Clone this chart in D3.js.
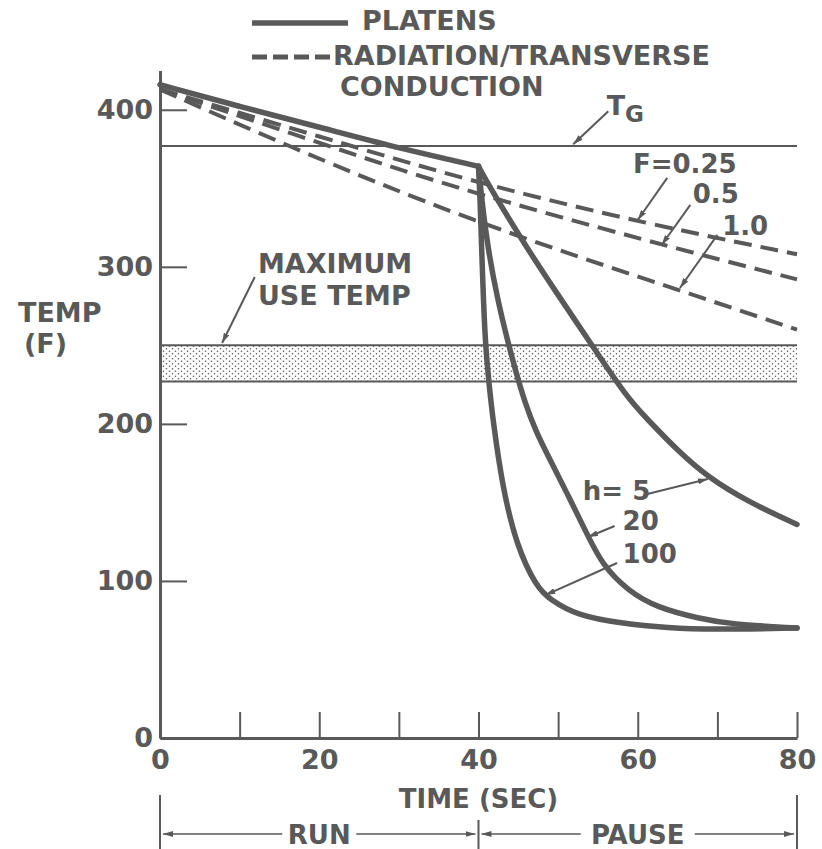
<!DOCTYPE html>
<html>
<head>
<meta charset="utf-8">
<script src="https://cdn.jsdelivr.net/npm/d3@7"></script>
<style>
body { margin: 0; background: #fff; }
text { font-family: "DejaVu Sans", sans-serif; font-weight: bold; fill: #595959; }
</style>
</head>
<body>
<svg id="chart"></svg>
<script>
// TICKS
const X_TICKS = [0, 10, 20, 30, 40, 50, 60, 70, 80];
const X_LABELS = [0, 20, 40, 60, 80];
const Y_TICKS = [0, 100, 200, 300, 400];

// REFERENCE LEVELS (F)
const T_G = 377;
const MAX_USE = [227, 250];

// PLATENS, RUN PHASE [sec, F]
const PLATEN_RUN = [[0, 416], [10, 402], [20, 389], [28, 378], [40, 364]];

// PLATENS, PAUSE PHASE
const PAUSE_H5 = [[40, 364], [41.5, 350], [46.2, 311], [50, 282], [54, 252], [58.6, 217],
    [61.2, 203], [65, 183], [68.8, 166], [74, 150], [80, 136]];
const PAUSE_H20 = [[40, 364], [40.4, 343], [41.2, 311], [42.4, 279], [43.7, 252], [44.7, 233],
    [45.8, 214], [47.2, 195], [49, 177], [51.5, 152], [53.8, 128], [55.6, 110], [58.7, 94], [62.4, 83],
    [67.8, 76], [71.6, 72.5], [80, 70]];
const PAUSE_H100 = [[40, 364], [40.2, 343], [40.4, 311], [40.8, 252], [41.4, 222], [41.8, 203],
    [43, 160], [44.8, 122], [47.3, 96], [49, 88], [52.4, 78], [57.8, 73], [64, 70], [69, 69], [80, 70]];

// RADIATION / TRANSVERSE CONDUCTION
const RAD_F025 = [[0, 413], [20, 383], [40, 353], [61.5, 327], [80, 308]];
const RAD_F05 = [[0, 413], [20, 379], [36.4, 351], [61.5, 316], [80, 292]];
const RAD_F10 = [[0, 413], [15.5, 378], [39, 329], [65.3, 285], [80, 260]];

// CALLOUTS [sec, F]
const LABELS = [
    { t: 59.4, v: 359.8, text: "F=0.25" },
    { t: 66.9, v: 340.7, text: "0.5" },
    { t: 70.6, v: 320.3, text: "1.0" },
    { t: 12.3, v: 296, text: "MAXIMUM" },
    { t: 12.3, v: 275.7, text: "USE TEMP" },
    { t: 53.1, v: 151.5, text: "h= 5" },
    { t: 58.1, v: 132.4, text: "20" },
    { t: 58.1, v: 111.4, text: "100" },
];
const ARROWS = [
    [[56.3, 399], [51.9, 378]],
    [[63.7, 356.6], [60.0, 329.8]],
    [[66.6, 339.4], [63.0, 313.9]],
    [[70.0, 320.3], [65.3, 286.5]],
    [[11.9, 293.5], [7.8, 251.5]],
    [[60.7, 154.7], [68.8, 164.9]],
    [[57.1, 135], [53.75, 128]],
    [[57.4, 111.4], [48.4, 91]],
];

const WIDTH = 822;
const HEIGHT = 849;
const INK = "#595959";

const svg = d3.select('#chart')
    .attr('width', WIDTH)
    .attr('height', HEIGHT);

//CREATE SCALES
const xScale = d3.scaleLinear().domain([0, 80]).range([160, 797]);
const yScale = d3.scaleLinear().domain([0, 425]).range([738, 70.5]);

const defs = svg.append('defs');

defs.append('pattern')
    .attr('id', 'dots')
    .attr('patternUnits', 'userSpaceOnUse')
    .attr('width', 6)
    .attr('height', 5)
    .selectAll('circle')
    .data([[1.5, 1.2], [4.5, 3.7]])
    .enter()
    .append('circle')
    .attr('cx', d => d[0])
    .attr('cy', d => d[1])
    .attr('r', 0.8)
    .attr('fill', INK);

defs.append('marker')
    .attr('id', 'head')
    .attr('viewBox', '0 0 10 6')
    .attr('refX', 10)
    .attr('refY', 3)
    .attr('markerWidth', 10)
    .attr('markerHeight', 6)
    .attr('markerUnits', 'userSpaceOnUse')
    .attr('orient', 'auto')
    .append('path')
    .attr('d', 'M0,0 L10,3 L0,6 Z')
    .attr('fill', INK);

//MAX USE TEMP BAND
svg.append('rect')
    .attr('x', xScale(0))
    .attr('y', yScale(MAX_USE[1]))
    .attr('width', xScale(80) - xScale(0))
    .attr('height', yScale(MAX_USE[0]) - yScale(MAX_USE[1]))
    .attr('fill', 'url(#dots)');

svg.selectAll('.band-edge')
    .data(MAX_USE.concat([T_G]))
    .enter()
    .append('line')
    .attr('x1', xScale(0))
    .attr('x2', xScale(80))
    .attr('y1', d => yScale(d))
    .attr('y2', d => yScale(d))
    .attr('stroke', INK)
    .attr('stroke-width', 2);

//DRAW AXES
const xAxis = svg.append('g')
    .attr('transform', `translate(0, ${yScale(0)})`)
    .call(d3.axisBottom(xScale)
        .tickValues(X_TICKS)
        .tickSize(-26)
        .tickSizeOuter(0)
        .tickPadding(12)
        .tickFormat(d => X_LABELS.includes(d) ? d : ''));

const yAxis = svg.append('g')
    .attr('transform', `translate(${xScale(0)}, 0)`)
    .call(d3.axisLeft(yScale)
        .tickValues(Y_TICKS)
        .tickSize(-27)
        .tickSizeOuter(0)
        .tickPadding(7));

[xAxis, yAxis].forEach(a => {
    a.attr('color', INK).attr('font-size', 27).attr('font-family', null);
    a.select('.domain').attr('stroke-width', 3);
    a.selectAll('.tick line').attr('stroke-width', 2);
});

//DRAW CURVES
const line = d3.line()
    .x(d => xScale(d[0]))
    .y(d => yScale(d[1]))
    .curve(d3.curveBasis);

const curves = svg.append('g')
    .attr('fill', 'none')
    .attr('stroke', INK)
    .attr('stroke-linecap', 'round')
    .attr('stroke-linejoin', 'round');

curves.selectAll('.rad')
    .data([RAD_F025, RAD_F05, RAD_F10])
    .enter()
    .append('path')
    .attr('d', line)
    .attr('stroke-width', 4)
    .attr('stroke-linecap', 'butt')
    .attr('stroke-dasharray', '18 9');

curves.selectAll('.platen')
    .data([PLATEN_RUN, PAUSE_H5, PAUSE_H20, PAUSE_H100])
    .enter()
    .append('path')
    .attr('d', line)
    .attr('stroke-width', 5.5);

//CALLOUTS
svg.selectAll('.callout')
    .data(LABELS)
    .enter()
    .append('text')
    .attr('x', d => xScale(d.t))
    .attr('y', d => yScale(d.v))
    .attr('font-size', d => d.text.length > 6 ? 27 : 26)
    .text(d => d.text);

const tg = svg.append('text')
    .attr('x', xScale(56.1))
    .attr('y', yScale(396.7))
    .attr('font-size', 27)
    .text('T');
tg.append('tspan').attr('dy', 7).attr('font-size', 23).text('G');

svg.selectAll('.arrow')
    .data(ARROWS)
    .enter()
    .append('line')
    .attr('x1', d => xScale(d[0][0]))
    .attr('y1', d => yScale(d[0][1]))
    .attr('x2', d => xScale(d[1][0]))
    .attr('y2', d => yScale(d[1][1]))
    .attr('stroke', INK)
    .attr('stroke-width', 2)
    .attr('marker-end', 'url(#head)');

//AXIS TITLES
svg.append('text').attr('x', 18).attr('y', 322).attr('font-size', 27).text('TEMP');
svg.append('text').attr('x', 24).attr('y', 353).attr('font-size', 27).text('(F)');
svg.append('text')
    .attr('x', xScale(40))
    .attr('y', 808)
    .attr('text-anchor', 'middle')
    .attr('font-size', 26)
    .text('TIME (SEC)');

//RUN / PAUSE SPANS
svg.selectAll('.span-edge')
    .data([[0, 795], [40, 820], [80, 795]])
    .enter()
    .append('line')
    .attr('x1', d => xScale(d[0]))
    .attr('x2', d => xScale(d[0]))
    .attr('y1', d => d[1])
    .attr('y2', HEIGHT)
    .attr('stroke', INK)
    .attr('stroke-width', 2);

const spans = [
    { from: 0, to: 40, text: 'RUN', half: 33 },
    { from: 40, to: 80, text: 'PAUSE', half: 53 },
];
spans.forEach(s => {
    const mid = (xScale(s.from) + xScale(s.to)) / 2;
    svg.append('text')
        .attr('x', mid)
        .attr('y', 844)
        .attr('text-anchor', 'middle')
        .attr('font-size', 26)
        .text(s.text);
    [[mid - s.half - 4, xScale(s.from) + 3], [mid + s.half + 4, xScale(s.to) - 3]].forEach(p => {
        svg.append('line')
            .attr('x1', p[0]).attr('x2', p[1])
            .attr('y1', 834).attr('y2', 834)
            .attr('stroke', INK)
            .attr('stroke-width', 1.5)
            .attr('marker-end', 'url(#head)');
    });
});

//LEGEND
svg.append('line')
    .attr('x1', 252).attr('x2', 348)
    .attr('y1', 23).attr('y2', 23)
    .attr('stroke', INK)
    .attr('stroke-width', 5.5);
svg.append('line')
    .attr('x1', 252).attr('x2', 330)
    .attr('y1', 57).attr('y2', 57)
    .attr('stroke', INK)
    .attr('stroke-width', 5)
    .attr('stroke-dasharray', '15 6');
svg.append('text').attr('x', 362).attr('y', 30).attr('font-size', 27).text('PLATENS');
svg.append('text').attr('x', 333).attr('y', 65).attr('font-size', 27).text('RADIATION/TRANSVERSE');
svg.append('text').attr('x', 340).attr('y', 96).attr('font-size', 27).text('CONDUCTION');
</script>
</body>
</html>
